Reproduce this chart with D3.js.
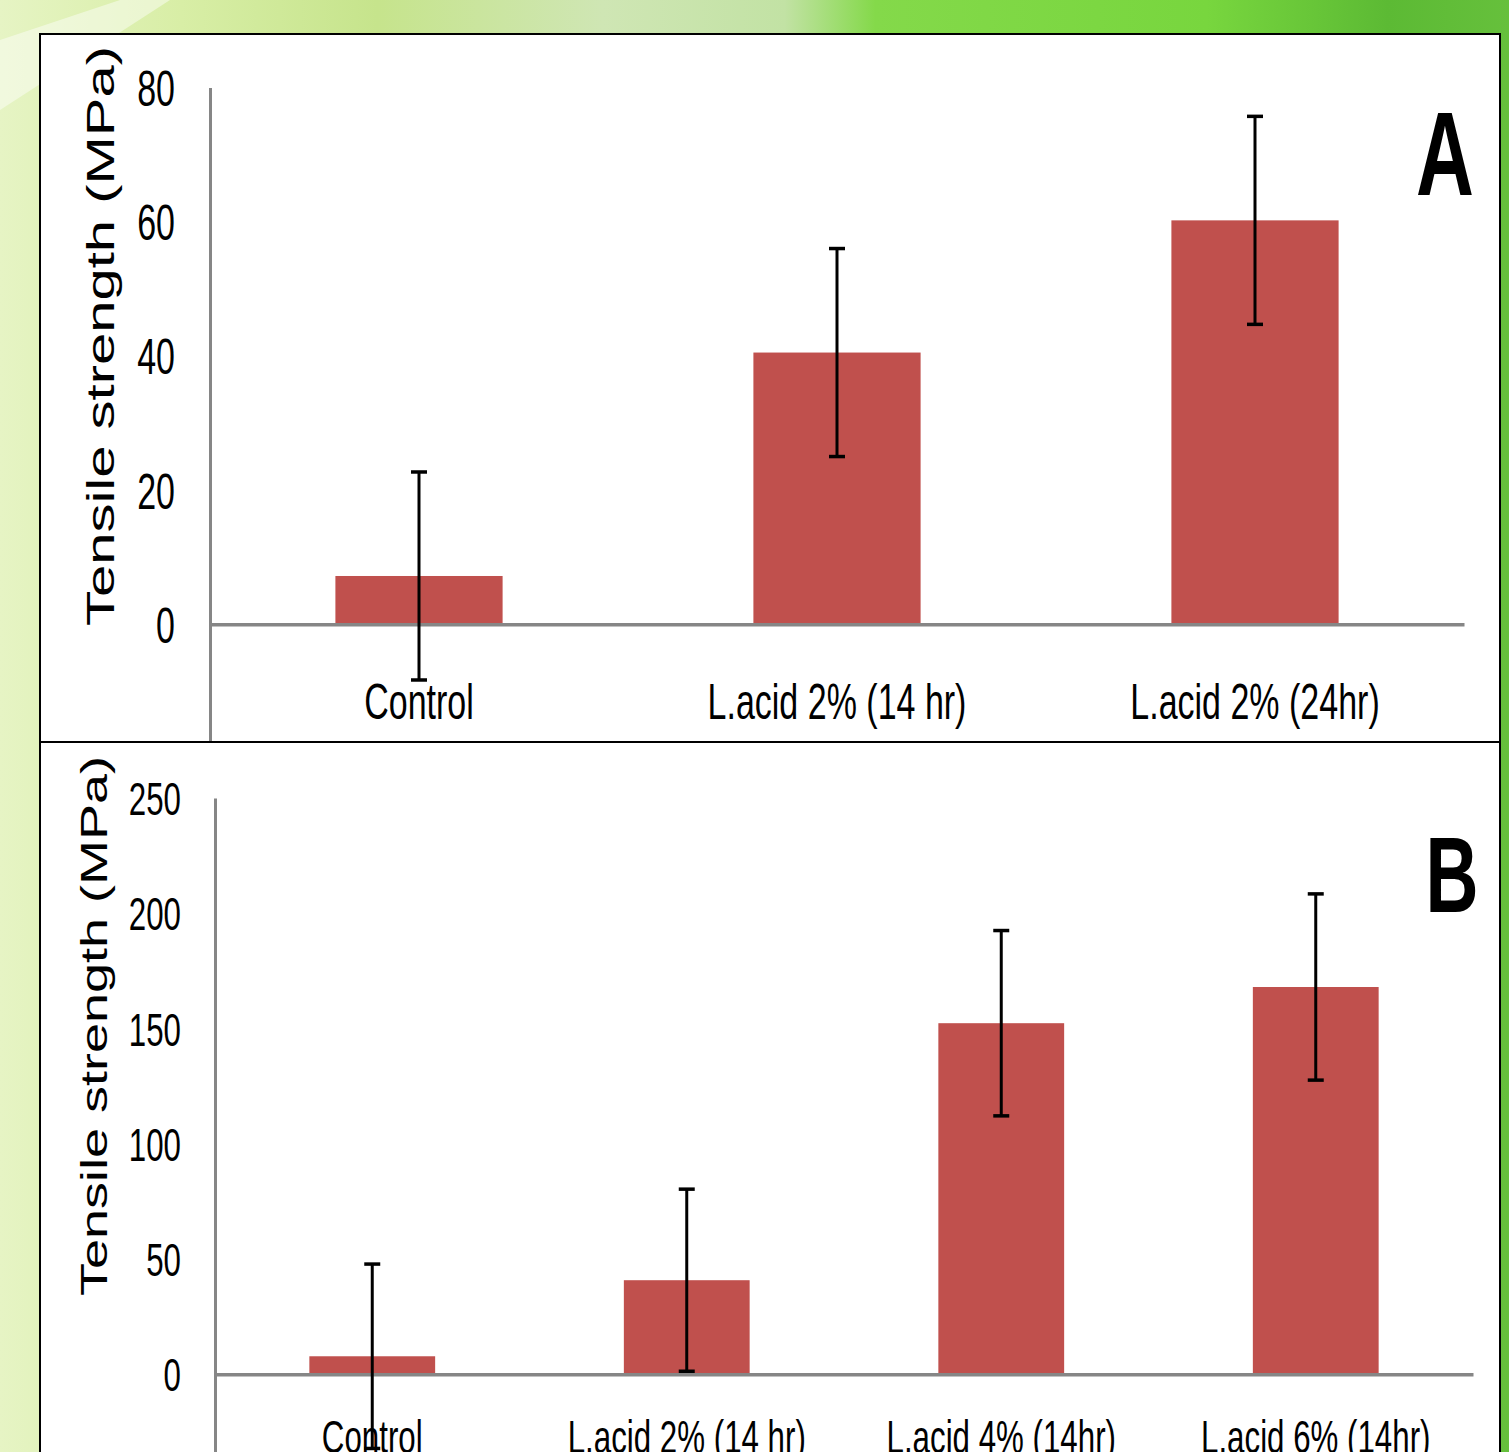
<!DOCTYPE html>
<html>
<head>
<meta charset="utf-8">
<script src="https://cdn.jsdelivr.net/npm/d3@7"></script>
<style>
  body { margin: 0; background: #ffffff; }
  svg { display: block; }
</style>
</head>
<body>
<script>
// chart data
var categoriesA = ["Control", "L.acid 2% (14 hr)", "L.acid 2% (24hr)"];
var valuesA = [7.2, 40.5, 60.2];
var errorsA = [15.5, 15.5, 15.5];
var ticksA = [-20, 0, 20, 40, 60, 80];

var categoriesB = ["Control", "L.acid 2% (14 hr)", "L.acid 4% (14hr)", "L.acid 6% (14hr)"];
var valuesB = [7.8, 40.8, 152.3, 168];
var errorsB = [40, 39.5, 40.2, 40.4];
var ticksB = [-50, 0, 50, 100, 150, 200, 250];

var yTitle = "Tensile strength (MPa)";

var width = 1509;
var height = 1452;
var squeeze = 0.68; // the picture is narrowed horizontally
var barColor = "#c0504d";
var axisColor = "#868686";

var svg = d3.select("body").append("svg")
  .attr("width", width)
  .attr("height", height);

var defs = svg.append("defs");

var bg = defs.append("linearGradient")
  .attr("id", "bg")
  .attr("x1", 0).attr("x2", 1).attr("y1", 0).attr("y2", 0);
[["0%", "#e6f4c4"], ["12%", "#d8eea6"], ["25%", "#c6e48c"], ["40%", "#cfe6b4"],
 ["52%", "#c2e2a4"], ["58%", "#84d94a"], ["80%", "#78d63e"], ["92%", "#5cba34"], ["100%", "#66c03c"]]
  .forEach(function(s) { bg.append("stop").attr("offset", s[0]).attr("stop-color", s[1]); });

svg.append("rect")
  .attr("width", width).attr("height", height)
  .attr("fill", "url(#bg)");

// pale streak in the top-left corner
svg.append("path")
  .attr("d", "M0,40 L120,0 L170,0 L0,110 Z")
  .attr("fill", "#ffffff")
  .attr("opacity", 0.45);

function drawPanel(o) {
  defs.append("clipPath").attr("id", o.id + "-clip")
    .append("rect")
    .attr("x", o.left).attr("y", o.top)
    .attr("width", o.right - o.left).attr("height", o.bottom - o.top);

  var g = svg.append("g").attr("clip-path", "url(#" + o.id + "-clip)");

  g.append("rect")
    .attr("x", o.left).attr("y", o.top)
    .attr("width", o.right - o.left).attr("height", o.bottom - o.top)
    .attr("fill", "#ffffff");

  var x = d3.scaleBand()
    .domain(o.categories)
    .range([o.x0, o.x1])
    .paddingInner(0.6)
    .paddingOuter(0.3);

  var y = d3.scaleLinear()
    .domain(o.domain)
    .range([o.yBottom, o.yTop]);

  // y axis
  var yAxis = g.append("g")
    .attr("transform", "translate(" + o.x0 + ",0)")
    .call(d3.axisLeft(y).tickValues(o.ticks).tickSize(0));
  yAxis.select(".domain").attr("stroke", axisColor).attr("stroke-width", 3);
  yAxis.selectAll("text")
    .attr("x", 0)
    .attr("dy", "0.36em")
    .attr("transform", "translate(" + (-o.tickGap) + ",0) scale(" + squeeze + ",1)")
    .attr("text-anchor", "end")
    .attr("font-family", "'Liberation Sans', Arial, sans-serif")
    .attr("font-size", o.fontSize)
    .attr("fill", "#000");

  // x axis at zero
  var xAxis = g.append("g")
    .attr("transform", "translate(0," + y(0) + ")")
    .call(d3.axisBottom(x).tickSize(0));
  xAxis.select(".domain").attr("stroke", axisColor).attr("stroke-width", 3.5);
  xAxis.selectAll("text")
    .attr("y", o.labelOffset)
    .attr("dy", 0)
    .attr("transform", "scale(" + squeeze + ",1)")
    .attr("font-family", "'Liberation Sans', Arial, sans-serif")
    .attr("font-size", o.fontSize)
    .attr("fill", "#000");

  // bars
  g.selectAll(".bar")
    .data(o.values)
    .enter().append("rect")
    .attr("class", "bar")
    .attr("x", function(d, i) { return x(o.categories[i]); })
    .attr("width", x.bandwidth())
    .attr("y", function(d) { return y(d); })
    .attr("height", function(d) { return y(0) - y(d); })
    .attr("fill", barColor);

  xAxis.raise();

  // error bars
  var err = g.selectAll(".err")
    .data(o.values)
    .enter().append("g")
    .attr("class", "err")
    .attr("transform", function(d, i) { return "translate(" + (x(o.categories[i]) + x.bandwidth() / 2) + ",0)"; });

  err.append("line")
    .attr("y1", function(d, i) { return y(d + o.errors[i]); })
    .attr("y2", function(d, i) { return y(d - o.errors[i]); })
    .attr("stroke", "#000").attr("stroke-width", 3);
  err.append("line")
    .attr("x1", -8).attr("x2", 8)
    .attr("y1", function(d, i) { return y(d + o.errors[i]); })
    .attr("y2", function(d, i) { return y(d + o.errors[i]); })
    .attr("stroke", "#000").attr("stroke-width", 3.5);
  err.append("line")
    .attr("x1", -8).attr("x2", 8)
    .attr("y1", function(d, i) { return y(d - o.errors[i]); })
    .attr("y2", function(d, i) { return y(d - o.errors[i]); })
    .attr("stroke", "#000").attr("stroke-width", 3.5);

  // rotated y title
  g.append("text")
    .attr("transform", "translate(" + o.titleX + "," + o.titleY + ") scale(" + squeeze + ",1) rotate(-90)")
    .attr("text-anchor", "middle")
    .attr("dy", "0.36em")
    .attr("font-family", "'Liberation Sans', Arial, sans-serif")
    .attr("font-size", o.titleSize)
    .attr("fill", "#000")
    .text(yTitle);

  // panel letter
  g.append("text")
    .attr("transform", "translate(" + o.letterX + "," + o.letterY + ") scale(" + squeeze + ",1)")
    .attr("text-anchor", "middle")
    .attr("font-family", "'Liberation Sans', Arial, sans-serif")
    .attr("font-weight", "bold")
    .attr("font-size", o.letterSize)
    .attr("fill", "#000")
    .text(o.letter);

  svg.append("rect")
    .attr("x", o.left).attr("y", o.top)
    .attr("width", o.right - o.left).attr("height", o.bottom - o.top)
    .attr("fill", "none")
    .attr("stroke", "#000")
    .attr("stroke-width", 2);
}

drawPanel({
  id: "pa", letter: "A",
  categories: categoriesA, values: valuesA, errors: errorsA, ticks: ticksA,
  domain: [-20, 80],
  left: 40, right: 1500, top: 34, bottom: 742,
  x0: 210, x1: 1464, yBottom: 758.5, yTop: 87.5,
  tickGap: 35, labelOffset: 95, fontSize: 50,
  titleX: 100, titleY: 336, titleSize: 58,
  letterX: 1445, letterY: 195, letterSize: 118
});

drawPanel({
  id: "pb", letter: "B",
  categories: categoriesB, values: valuesB, errors: errorsB, ticks: ticksB,
  domain: [-50, 250],
  left: 40, right: 1500, top: 742, bottom: 1470,
  x0: 215, x1: 1473, yBottom: 1489.5, yTop: 798,
  tickGap: 34, labelOffset: 79, fontSize: 46,
  titleX: 94, titleY: 1026, titleSize: 54,
  letterX: 1452, letterY: 912, letterSize: 108
});
</script>
</body>
</html>
